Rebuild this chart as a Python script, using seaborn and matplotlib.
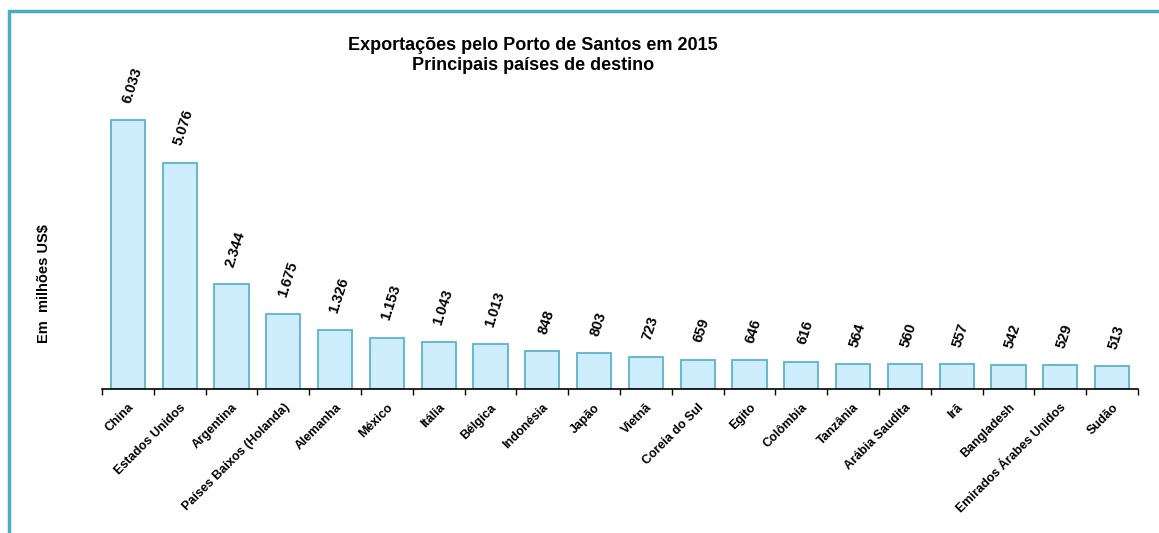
import matplotlib
matplotlib.use("Agg")
import matplotlib.pyplot as plt
import seaborn as sns
from matplotlib.patches import Rectangle

# Exportações pelo Porto de Santos em 2015 (em milhões US$)
paises = [
    "China", "Estados Unidos", "Argentina", "Países Baixos (Holanda)", "Alemanha",
    "México", "Itália", "Bélgica", "Indonésia", "Japão", "Vietnã", "Coreia do Sul",
    "Egito", "Colômbia", "Tanzânia", "Arábia Saudita", "Irã", "Bangladesh",
    "Emirados Árabes Unidos", "Sudão",
]
valores = [6033, 5076, 2344, 1675, 1326, 1153, 1043, 1013, 848, 803,
           723, 659, 646, 616, 564, 560, 557, 542, 529, 513]

sns.set_theme(style="white")
plt.rcParams["font.family"] = ["Liberation Sans", "DejaVu Sans"]
plt.rcParams["text.color"] = "black"
plt.rcParams["xtick.color"] = "black"

W, H = 1159, 533
fig = plt.figure(figsize=(W / 100, H / 100), dpi=100)
ax = fig.add_axes([102 / W, 1 - 389 / H, 1036 / W, 349 / H])

sns.barplot(x=paises, y=valores, color="#cdecfc", saturation=1,
            edgecolor="#5cb3cc", linewidth=1.3, width=0.66, ax=ax)

ax.set_xlim(-0.5, len(paises) - 0.5)
ax.set_ylim(0, 7826)

# value labels, Brazilian thousands separator
for i, v in enumerate(valores):
    txt = f"{v:,}".replace(",", ".")
    ax.annotate(txt, (i, v), xytext=(3, 11), textcoords="offset points",
                ha="center", va="bottom", rotation=72,
                fontsize=10.5, fontweight="bold", color="black")

# axes styling: only the category axis
for s in ["top", "right", "left"]:
    ax.spines[s].set_visible(False)
ax.spines["bottom"].set_color("black")
ax.spines["bottom"].set_linewidth(1.2)
ax.set_yticks([])
ax.set_ylabel("")
ax.set_xticks(range(len(paises)))
ax.set_xticklabels(paises, rotation=45, ha="right", rotation_mode="anchor",
                   fontsize=9, fontweight="bold", color="black")
ax.tick_params(axis="x", which="major", length=0, pad=9)
ax.set_xticks([i - 0.5 for i in range(len(paises) + 1)], minor=True)
ax.tick_params(axis="x", which="minor", length=4, width=1, color="black",
               direction="out", bottom=True)

fig.text(533 / W, 1 - 37 / H,
         "Exportações pelo Porto de Santos em 2015\nPrincipais países de destino",
         ha="center", va="top", fontsize=13, fontweight="bold", linespacing=1.25,
         color="black")
fig.text(44 / W, 1 - 284 / H, "Em  milhões US$", rotation=90,
         ha="center", va="center", fontsize=10.5, fontweight="bold", color="black")

# cyan frame, partly outside the canvas like in the original
fig.patches.append(Rectangle((9 / W, -0.1), 1.2, 1 - 11 / H + 0.1,
                             transform=fig.transFigure, fill=False,
                             edgecolor="#4bacc6", linewidth=2.5))

fig.savefig("out.png", dpi=100)
